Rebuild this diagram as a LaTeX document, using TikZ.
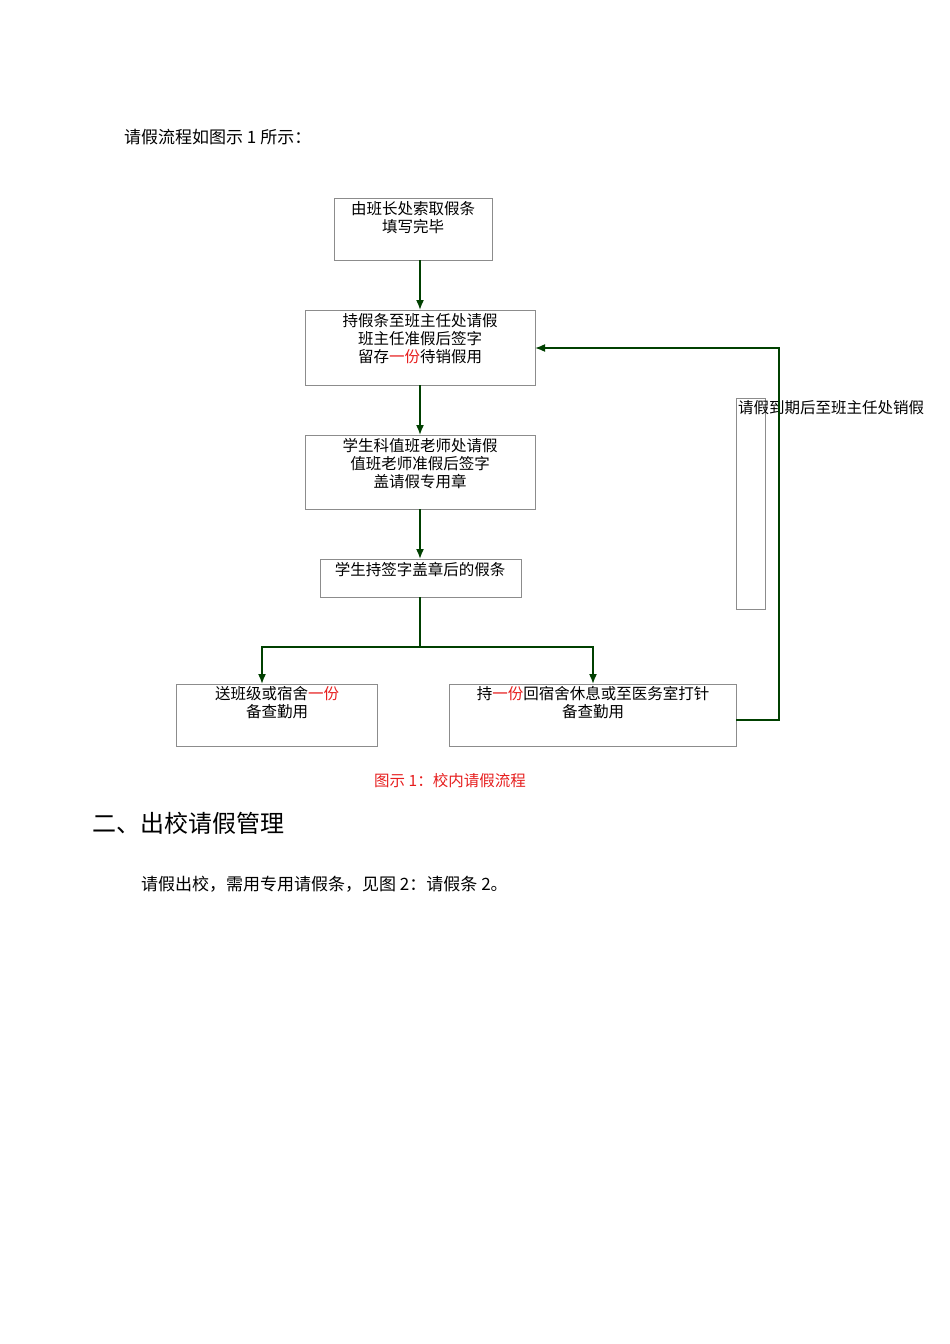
\documentclass[tikz,border=0pt]{standalone}
\usepackage{fontspec}
\newfontfamily\cjk{Noto Sans CJK SC}
\usetikzlibrary{arrows.meta}
\definecolor{dg}{RGB}{0,64,0}
\definecolor{rd}{RGB}{230,30,30}
\begin{document}
\begin{tikzpicture}[x=1pt,y=-1pt,
  bx/.style={draw=black!45,line width=0.6pt},
  tx/.style={font=\cjk\fontsize{15.5}{17}\selectfont,inner sep=0pt},
  ar/.style={draw=dg,line width=1.6pt,-{Latex[length=10pt,width=8pt]}},
  ln/.style={draw=dg,line width=1.6pt}]
\useasboundingbox (0,0) rectangle (950,1344);
\node[tx,anchor=west,font=\cjk\fontsize{17}{19}\selectfont] (intro) at (124,137) {请假流程如图示 1 所示：};
\draw[bx] (334,198) rectangle (492,260);
\node[tx] (b1a) at (413,209) {由班长处索取假条};
\node[tx] (b1b) at (413,227) {填写完毕};
\draw[bx] (305,310) rectangle (535,385);
\node[tx] (b2a) at (420,321) {持假条至班主任处请假};
\node[tx] (b2b) at (420,339) {班主任准假后签字};
\node[tx] (b2c) at (420,357) {留存\textcolor{rd}{一份}待销假用};
\draw[bx] (305,435) rectangle (535,509);
\node[tx] (b3a) at (420,446) {学生科值班老师处请假};
\node[tx] (b3b) at (420,464) {值班老师准假后签字};
\node[tx] (b3c) at (420,482) {盖请假专用章};
\draw[bx] (320,559) rectangle (521,597);
\node[tx] (b4a) at (420,570) {学生持签字盖章后的假条};
\draw[bx] (176,684) rectangle (377,746);
\node[tx] (b5a) at (277,694) {送班级或宿舍\textcolor{rd}{一份}};
\node[tx] (b5b) at (277,712) {备查勤用};
\draw[bx] (449,684) rectangle (736,746);
\node[tx] (b6a) at (593,694) {持\textcolor{rd}{一份}回宿舍休息或至医务室打针};
\node[tx] (b6b) at (593,712) {备查勤用};
\draw[bx] (736,398) rectangle (765,609);
\node[tx,anchor=west] (side) at (738,408) {请假到期后至班主任处销假};
\coordinate (p1) at (420,260); \coordinate (p2) at (420,310);
\coordinate (p3) at (420,385); \coordinate (p4) at (420,435);
\coordinate (p5) at (420,509); \coordinate (p6) at (420,559);
\coordinate (p7) at (420,597); \coordinate (p8) at (420,647);
\coordinate (l1) at (262,647); \coordinate (l2) at (262,684);
\coordinate (r1) at (593,647); \coordinate (r2) at (593,684);
\coordinate (q1) at (736,720); \coordinate (q2) at (779,720);
\coordinate (q3) at (779,348); \coordinate (q4) at (535,348);
\draw[ar] (p1) -- (p2);
\draw[ar] (p3) -- (p4);
\draw[ar] (p5) -- (p6);
\draw[ln] (p7) -- (p8);
\draw[ar] (p8) -- (l1) -- (l2);
\draw[ar] (p8) -- (r1) -- (r2);
\draw[ar] (q1) -- (q2) -- (q3) -- (q4);
\node[tx,text=rd] (cap) at (450,781) {图示 1：校内请假流程};
\node[tx,anchor=west,font=\cjk\fontsize{24}{27}\selectfont] (h2) at (92,823) {二、出校请假管理};
\node[tx,anchor=west,font=\cjk\fontsize{17}{19}\selectfont] (p) at (141,884) {请假出校，需用专用请假条，见图 2：请假条 2。};
\end{tikzpicture}
\end{document}
